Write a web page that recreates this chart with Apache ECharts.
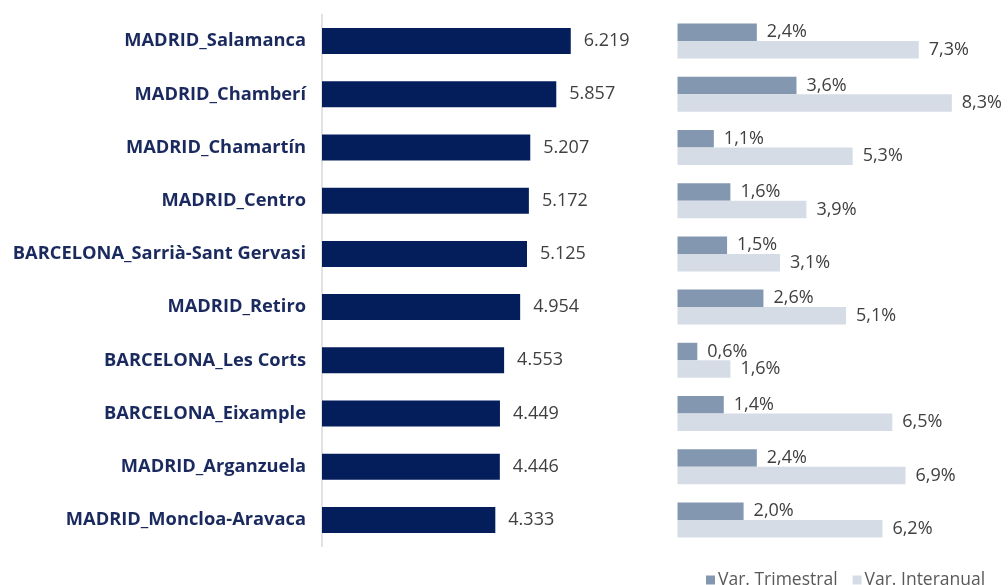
<!DOCTYPE html>
<html>
<head>
<meta charset="utf-8">
<script src="https://cdn.jsdelivr.net/npm/echarts@6/dist/echarts.min.js"></script>
<style>
  html, body { margin: 0; padding: 0; background: #fff; }
  #main { width: 1008px; height: 585px; }
</style>
</head>
<body>
<div id="main"></div>
<script>
    // datos del gráfico
    var barrios = ['MADRID_Salamanca', 'MADRID_Chamberí', 'MADRID_Chamartín', 'MADRID_Centro',
        'BARCELONA_Sarrià-Sant Gervasi', 'MADRID_Retiro', 'BARCELONA_Les Corts',
        'BARCELONA_Eixample', 'MADRID_Arganzuela', 'MADRID_Moncloa-Aravaca'];
    var precio = [6219, 5857, 5207, 5172, 5125, 4954, 4553, 4449, 4446, 4333];
    var varTrimestral = [2.4, 3.6, 1.1, 1.6, 1.5, 2.6, 0.6, 1.4, 2.4, 2.0];
    var varInteranual = [7.3, 8.3, 5.3, 3.9, 3.1, 5.1, 1.6, 6.5, 6.9, 6.2];

    var font = '"Open Sans", "Noto Sans", sans-serif';

    function fmtMiles(v) {
        return String(v).replace(/\B(?=(\d{3})+(?!\d))/g, '.');
    }
    function fmtPct(v) {
        return v.toFixed(1).replace('.', ',') + '%';
    }

    var myChart = echarts.init(document.getElementById('main'));

    let option = {
        animation: false,
        textStyle: { fontFamily: font },
        legend: {
            data: ['Var. Trimestral', 'Var. Interanual'],
            left: 701,
            top: 566,
            itemWidth: 9,
            itemHeight: 9,
            itemGap: 15,
            icon: 'rect',
            textStyle: { color: '#595959', fontSize: 17.5, fontFamily: font, padding: [0, 0, 0, -2] }
        },
        grid: [
            { left: 322, top: 14.5, width: 280, height: 532, containLabel: false },
            { left: 677.5, top: 14.5, width: 334, height: 532, containLabel: false }
        ],
        xAxis: [
            { gridIndex: 0, type: 'value', min: 0, max: 7000, show: false },
            { gridIndex: 1, type: 'value', min: 0, max: 10, show: false }
        ],
        yAxis: [
            {
                gridIndex: 0, type: 'category', data: barrios, inverse: true,
                axisLine: { show: true, lineStyle: { color: '#d9d9d9', width: 1.5 } },
                axisTick: { show: false },
                axisLabel: {
                    margin: 16, color: '#1b2a5e', fontSize: 18.3, fontWeight: 'bold', fontFamily: font
                }
            },
            {
                gridIndex: 1, type: 'category', data: barrios, inverse: true,
                axisLine: { show: false }, axisTick: { show: false }, axisLabel: { show: false }
            }
        ],
        series: [
            {
                name: 'Precio',
                type: 'bar',
                xAxisIndex: 0, yAxisIndex: 0,
                data: precio,
                barWidth: 26,
                itemStyle: { color: '#041e5c' },
                label: {
                    show: true, position: 'right', distance: 13,
                    color: '#404040', fontSize: 18, fontFamily: font,
                    formatter: function (p) { return fmtMiles(p.value); }
                }
            },
            {
                name: 'Var. Trimestral',
                type: 'bar',
                xAxisIndex: 1, yAxisIndex: 1,
                data: varTrimestral,
                barWidth: 17.5,
                barGap: '0%',
                itemStyle: { color: '#8497b0' },
                label: {
                    show: true, position: 'right', distance: 10,
                    color: '#404040', fontSize: 18, fontFamily: font,
                    formatter: function (p) { return fmtPct(p.value); }
                }
            },
            {
                name: 'Var. Interanual',
                type: 'bar',
                xAxisIndex: 1, yAxisIndex: 1,
                data: varInteranual,
                barWidth: 17.5,
                barGap: '0%',
                itemStyle: { color: '#d6dce5' },
                label: {
                    show: true, position: 'right', distance: 10,
                    color: '#404040', fontSize: 18, fontFamily: font,
                    formatter: function (p) { return fmtPct(p.value); }
                }
            }
        ]
    };
    myChart.setOption(option);
</script>
</body>
</html>
